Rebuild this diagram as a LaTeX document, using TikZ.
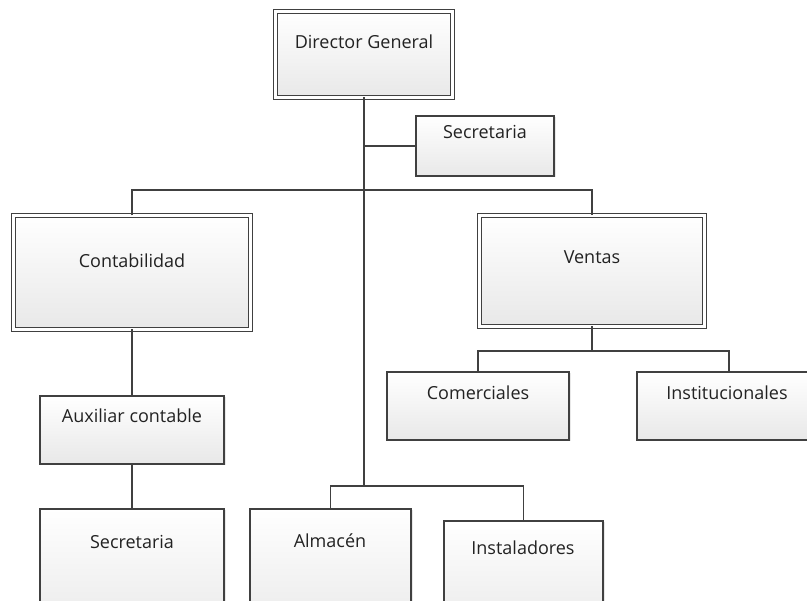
\documentclass[tikz,border=0pt]{standalone}
\usepackage{fontspec}
\setmainfont{Open Sans}
\usetikzlibrary{shadows}
\definecolor{edge}{HTML}{404040}
\definecolor{ink}{HTML}{222222}
\tikzset{
  box/.style={rectangle, draw=edge, line width=1.5pt, inner sep=0pt, outer sep=0pt,
    top color=white, bottom color=black!9,
    drop shadow={opacity=0.18, shadow xshift=1.5pt, shadow yshift=-1.5pt}},
  dbox/.style={box, line width=1.4pt, double=white, double distance=2.2pt},
  lbl/.style={inner sep=0pt, text=ink, font=\fontsize{18}{20}\selectfont},
  wire/.style={draw=edge, line width=1.5pt}
}
\begin{document}
\begin{tikzpicture}[x=1pt,y=-1pt]
\useasboundingbox (0,0) rectangle (807,601);
\clip (0,0) rectangle (807,601);
\fill[white] (0,0) rectangle (807,601);
% boxes
\node[dbox, minimum width=177pt, minimum height=86pt] (dg) at (364,54.5) {};
\node[box, minimum width=138pt, minimum height=60pt] (sec1) at (485,146) {};
\node[dbox, minimum width=237pt, minimum height=114pt] (cont) at (132,272.5) {};
\node[dbox, minimum width=225pt, minimum height=111pt] (ven) at (592,271) {};
\node[box, minimum width=182pt, minimum height=68pt] (com) at (478,406) {};
\node[box, minimum width=184pt, minimum height=68pt] (inst) at (729,406) {};
\node[box, minimum width=184pt, minimum height=68pt] (aux) at (132,430) {};
\node[box, minimum width=184pt, minimum height=131pt] (sec2) at (132,574.5) {};
\node[box, minimum width=161pt, minimum height=131pt] (alm) at (330.5,574.5) {};
\node[box, minimum width=159pt, minimum height=119pt] (ins) at (523.5,580.5) {};
% labels
\node[lbl] (tdg) at (364,42) {Director General};
\node[lbl] (tsec1) at (485,132) {Secretaria};
\node[lbl] (tcont) at (132,261) {Contabilidad};
\node[lbl] (tven) at (592,257) {Ventas};
\node[lbl] (tcom) at (478,393) {Comerciales};
\node[lbl] (tinst) at (727,393) {Institucionales};
\node[lbl] (taux) at (132,416) {Auxiliar contable};
\node[lbl] (tsec2) at (132,542) {Secretaria};
\node[lbl] (talm) at (330,541) {Almacén};
\node[lbl] (tins) at (523,548) {Instaladores};
% buses
\coordinate (bus1) at (364,190);
\coordinate (bus2) at (592,351);
\coordinate (bus3) at (364,486);
% connectors
\draw[wire] (dg.south) -- (bus3);
\draw[wire] (sec1.west) -- (sec1.west -| dg.south);
\draw[wire] (cont.north) |- (bus1) -| (ven.north);
\draw[wire] (ven.south) -- (bus2);
\draw[wire] (com.north) |- (bus2) -| (inst.north);
\draw[wire] (cont.south) -- (aux.north);
\draw[wire] (aux.south) -- (sec2.north);
\draw[wire] (alm.north) |- (bus3) -| (ins.north);
\end{tikzpicture}
\end{document}
